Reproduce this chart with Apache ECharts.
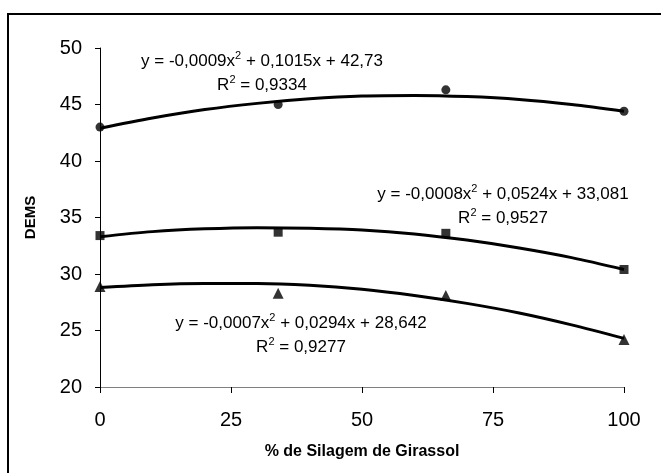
<!DOCTYPE html>
<html>
<head>
<meta charset="utf-8">
<script src="https://cdn.jsdelivr.net/npm/echarts@6/dist/echarts.min.js"></script>
<style>
  html, body { margin: 0; padding: 0; background: #fff; }
  #chart { width: 661px; height: 473px; }
</style>
</head>
<body>
<div id="chart"></div>
<script>
// observed points
const xPoints = [0, 34, 66, 100];
const circleValues = [43.0, 45.0, 46.3, 44.4];
const squareValues = [33.4, 33.7, 33.6, 30.4];
const triangleValues = [28.9, 28.3, 28.1, 24.2];

// trend curves, every 10 units
const trendX = [0, 10, 20, 30, 40, 50, 60, 70, 80, 90, 100];
const circleTrend = [42.9, 43.8, 44.55, 45.1, 45.5, 45.75, 45.8, 45.7, 45.45, 45.0, 44.4];
const squareTrend = [33.3, 33.75, 34.0, 34.1, 34.05, 33.9, 33.55, 33.0, 32.3, 31.45, 30.4];
const triangleTrend = [28.8, 29.05, 29.15, 29.15, 29.0, 28.65, 28.1, 27.4, 26.55, 25.5, 24.3];

const xTicks = [0, 25, 50, 75, 100];
const yTicks = [20, 25, 30, 35, 40, 45, 50];

const equations = [
    { pre: 'y = -0,0009x', post: ' + 0,1015x + 42,73', r2: '0,9334', x: 262, y: 60 },
    { pre: 'y = -0,0008x', post: ' + 0,0524x + 33,081', r2: '0,9527', x: 503, y: 193 },
    { pre: 'y = -0,0007x', post: ' + 0,0294x + 28,642', r2: '0,9277', x: 301, y: 322 }
];

const pairs = (xs, ys) => xs.map((x, i) => [x, ys[i]]);

const chart = echarts.init(document.getElementById('chart'));

const font = 'Liberation Sans, Arial, sans-serif';

function trendSeries(values) {
    return {
        type: 'line',
        data: pairs(trendX, values),
        smooth: 0.3,
        showSymbol: false,
        silent: true,
        lineStyle: { color: '#000', width: 3 },
        z: 2
    };
}

function pointSeries(values, symbol, size) {
    return {
        type: 'scatter',
        data: pairs(xPoints, values),
        symbol: symbol,
        symbolSize: size,
        itemStyle: { color: '#000' },
        z: 3
    };
}

const rich = {
    a: { fontFamily: font, fontSize: 17, color: '#000', lineHeight: 19, verticalAlign: 'bottom' },
    s: { fontFamily: font, fontSize: 11, color: '#000', lineHeight: 19, verticalAlign: 'top', padding: [0, 0, 6, 0] }
};

const graphics = [{
    type: 'rect',
    shape: { x: 8, y: 14, width: 700, height: 500 },
    style: { fill: 'none', stroke: '#000', lineWidth: 2 },
    silent: true
}];
equations.forEach(e => {
    graphics.push({
        type: 'text', x: e.x, y: e.y,
        style: { text: '{a|' + e.pre + '}{s|2}{a|' + e.post + '}', rich: rich, align: 'center', verticalAlign: 'middle' }
    });
    graphics.push({
        type: 'text', x: e.x, y: e.y + 24,
        style: { text: '{a|R}{s|2}{a| = ' + e.r2 + '}', rich: rich, align: 'center', verticalAlign: 'middle' }
    });
});

const option = {
    animation: false,
    backgroundColor: '#fff',
    grid: { left: 100, right: 37, top: 48, bottom: 86 },
    xAxis: {
        type: 'value',
        min: 0, max: 100, interval: 25,
        name: '% de Silagem de Girassol',
        nameLocation: 'middle',
        nameGap: 57,
        nameTextStyle: { fontFamily: font, fontSize: 16, fontWeight: 'bold', color: '#000' },
        axisLine: { show: true, lineStyle: { color: '#808080', width: 1 } },
        axisTick: { show: true, inside: false, length: 6, lineStyle: { color: '#000' } },
        axisLabel: { fontFamily: font, fontSize: 20, color: '#000', margin: 23 },
        splitLine: { show: false }
    },
    yAxis: {
        type: 'value',
        min: 20, max: 50, interval: 5,
        name: 'DEMS',
        nameLocation: 'middle',
        nameGap: 62,
        nameRotate: 90,
        nameTextStyle: { fontFamily: font, fontSize: 15, fontWeight: 'bold', color: '#000' },
        axisLine: { show: true, lineStyle: { color: '#000', width: 1 } },
        axisTick: { show: true, length: 5, lineStyle: { color: '#000' } },
        axisLabel: { fontFamily: font, fontSize: 20, color: '#000', margin: 18 },
        splitLine: { show: false }
    },
    graphic: graphics,
    series: [
        trendSeries(circleTrend),
        trendSeries(squareTrend),
        trendSeries(triangleTrend),
        pointSeries(circleValues, 'circle', 9),
        pointSeries(squareValues, 'rect', 9),
        pointSeries(triangleValues, 'triangle', 11)
    ]
};

chart.setOption(option);
</script>
</body>
</html>
